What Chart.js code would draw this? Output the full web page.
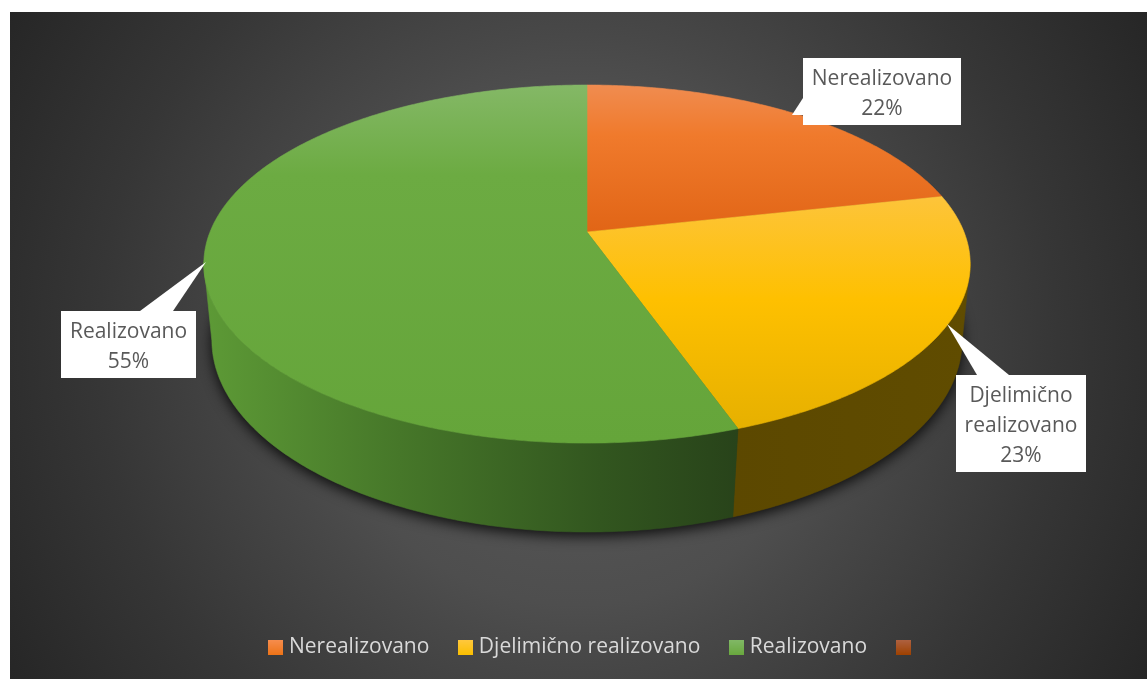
<!DOCTYPE html>
<html>
<head>
<meta charset="utf-8">
<style>
  html, body { margin: 0; padding: 0; background: #fff; }
  #wrap { width: 1147px; height: 679px; }
</style>
<script src="https://cdn.jsdelivr.net/npm/chart.js@4/dist/chart.umd.js"></script>
</head>
<body>
<div id="wrap"><canvas id="chart" width="1147" height="679"></canvas></div>
<script>
const categories = ['Nerealizovano', 'Djelimično realizovano', 'Realizovano', '']
const values = [21.6, 23, 55.4, 0]

const FONT = '"Open Sans"'
const TOP = { cx: 587, cy: 232, a: 377, c: 173.3, b: 0.179 }
const BOTTOM = { cx: 587, cy: 308.3, a: 370, c: 186.8, b: 0.165 }
// the wall only shows between the two silhouette points of the rim
const WALL_FROM = 0.17
const WALL_TO = Math.PI - 0.17

const faceStops = [
  [[85, '#f08c50'], [135, '#f07a2c'], [232, '#e16516']],
  [[197, '#fdc43a'], [300, '#fec000'], [430, '#e6b000']],
  [[85, '#84b866'], [175, '#6cab42'], [443, '#65a53a']],
  [[85, '#ae5f3a'], [443, '#9e4100']]
]
const wallStops = [
  [[587, '#6e3412'], [970, '#6e3412']],
  [[733, '#5c4800'], [970, '#604c00']],
  [[204, '#5d9a36'], [400, '#467729'], [600, '#32561f'], [737, '#28431a']],
  [[204, '#4f2200'], [970, '#4f2200']]
]
const swatchColors = [
  ['#f68d4e', '#ed7317'],
  ['#ffc83e', '#fbbf00'],
  ['#81b866', '#69a83e'],
  ['#ae6140', '#9e4100']
]
// distance from the middle of the backdrop, grey
const backdropStops = [[0, '#5c5c5c'], [260, '#4e4e4e'], [310, '#484848'], [480, '#363636'], [660, '#262626']]

// label boxes: x, y, w, h and the pointer polygon
const callouts = [
  { box: [803, 58, 158, 67], tip: [[792, 115], [803, 98], [803, 115]] },
  { box: [956, 375, 130, 97], tip: [[947, 324], [977, 375], [1009, 375]] },
  { box: [61, 311, 135, 67], tip: [[206, 262], [140, 311], [173, 311]] }
]

function project (p, angle) {
  const u = Math.cos(angle)
  const v = Math.sin(angle)
  const d = 1 - p.b * v
  return [p.cx + p.a * u / d, p.cy + p.c * v / d]
}

function rimPoints (p, from, to) {
  const pts = []
  const n = Math.max(2, Math.ceil(Math.abs(to - from) / 0.01))
  for (let i = 0; i <= n; i++) {
    pts.push(project(p, from + (to - from) * i / n))
  }
  return pts
}

function gradient (ctx, stops, horizontal) {
  const first = stops[0][0]
  const last = stops[stops.length - 1][0]
  const g = horizontal
    ? ctx.createLinearGradient(first, 0, last, 0)
    : ctx.createLinearGradient(0, first, 0, last)
  stops.forEach(s => g.addColorStop((s[0] - first) / (last - first), s[1]))
  return g
}

function fillPoly (ctx, pts, fill) {
  ctx.beginPath()
  pts.forEach((p, i) => i ? ctx.lineTo(p[0], p[1]) : ctx.moveTo(p[0], p[1]))
  ctx.closePath()
  ctx.fillStyle = fill
  ctx.strokeStyle = fill
  ctx.lineWidth = 0.6
  ctx.fill()
  ctx.stroke()
}

class Arc3D extends Chart.ArcElement {
  static id = 'arc3d'

  draw (ctx) {
    if (this.endAngle - this.startAngle < 0.001) return
    const i = this.$context.dataIndex
    const pts = [[TOP.cx, TOP.cy]].concat(rimPoints(TOP, this.startAngle, this.endAngle))
    fillPoly(ctx, pts, gradient(ctx, faceStops[i], false))
  }

  drawWall (ctx) {
    const from = Math.max(this.startAngle, WALL_FROM)
    const to = Math.min(this.endAngle, WALL_TO)
    if (to - from < 0.001) return
    const pts = rimPoints(TOP, from, to).concat(rimPoints(BOTTOM, to, from))
    fillPoly(ctx, pts, gradient(ctx, wallStops[this.$context.dataIndex], true))
  }
}

class Pie3D extends Chart.PieController {
  static id = 'pie3d'
  static defaults = { dataElementType: 'arc3d' }

  draw () {
    const ctx = this.chart.ctx
    // soft shadow under the base
    ctx.save()
    ctx.shadowColor = 'rgba(0,0,0,0.85)'
    ctx.shadowBlur = 14
    ctx.shadowOffsetY = 4
    ctx.beginPath()
    rimPoints(BOTTOM, 0, Math.PI * 2).forEach((p, i) => i ? ctx.lineTo(p[0], p[1]) : ctx.moveTo(p[0], p[1]))
    ctx.closePath()
    ctx.fillStyle = '#222'
    ctx.fill()
    ctx.restore()

    this._cachedMeta.data.forEach(arc => arc.drawWall(ctx))
    super.draw()
  }
}

Chart.register(Arc3D, Pie3D)

const backdrop = {
  id: 'backdrop',
  beforeDraw (chart) {
    const ctx = chart.ctx
    const r = backdropStops[backdropStops.length - 1][0]
    const g = ctx.createRadialGradient(578, 345, 0, 578, 345, r)
    backdropStops.forEach(s => g.addColorStop(s[0] / r, s[1]))
    ctx.save()
    ctx.fillStyle = g
    ctx.fillRect(10, 12, 1137, 667)
    ctx.restore()
  }
}

const calloutLabels = {
  id: 'calloutLabels',
  afterDatasetsDraw (chart) {
    const ctx = chart.ctx
    ctx.save()
    callouts.forEach((c, i) => {
      ctx.fillStyle = '#fff'
      ctx.fillRect(c.box[0], c.box[1], c.box[2], c.box[3])
      ctx.beginPath()
      c.tip.forEach((p, k) => k ? ctx.lineTo(p[0], p[1]) : ctx.moveTo(p[0], p[1]))
      ctx.closePath()
      ctx.fill()

      const lines = categories[i].split(' ').concat(Math.round(values[i]) + '%')
      const lineH = 30
      const startY = c.box[1] + c.box[3] / 2 - lineH * (lines.length - 1) / 2 + 3
      ctx.font = '21px ' + FONT
      ctx.fillStyle = '#595959'
      ctx.textAlign = 'center'
      ctx.textBaseline = 'middle'
      lines.forEach((t, k) => ctx.fillText(t, c.box[0] + c.box[2] / 2, startY + k * lineH))
    })
    ctx.restore()
  }
}

function swatch (colors) {
  const c = document.createElement('canvas')
  c.width = 15
  c.height = 15
  const x = c.getContext('2d')
  const g = x.createLinearGradient(0, 0, 0, 15)
  g.addColorStop(0, colors[0])
  g.addColorStop(1, colors[1])
  x.fillStyle = g
  x.fillRect(0, 0, 15, 15)
  return c
}

new Chart(document.getElementById('chart'), {
  type: 'pie3d',
  data: {
    labels: categories,
    datasets: [{ data: values, backgroundColor: swatchColors.map(c => c[1]) }]
  },
  options: {
    responsive: false,
    animation: false,
    layout: { padding: { left: 43, bottom: 11 } },
    plugins: {
      tooltip: { enabled: false },
      legend: {
        position: 'bottom',
        labels: {
          color: '#d9d9d9',
          font: { family: FONT, size: 21 },
          padding: 34,
          boxHeight: 15,
          usePointStyle: true,
          pointStyleWidth: 5,
          generateLabels: () => categories.map((t, i) => ({
            text: t,
            pointStyle: swatch(swatchColors[i]),
            fontColor: '#d9d9d9',
            lineWidth: 0,
            index: i
          }))
        }
      }
    }
  },
  plugins: [backdrop, calloutLabels]
})
</script>
</body>
</html>
